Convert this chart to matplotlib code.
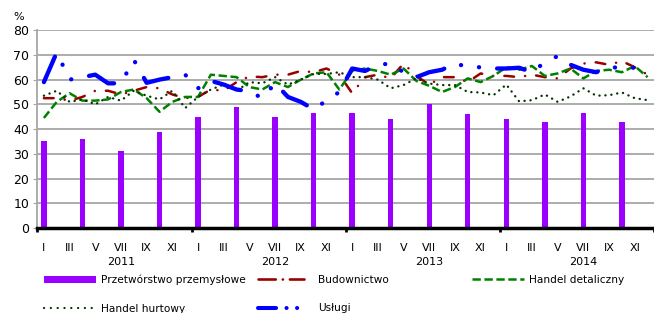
import numpy as np
import matplotlib
matplotlib.use("Agg")
import matplotlib.pyplot as plt
from matplotlib.patches import Patch
from matplotlib.lines import Line2D

plt.rcParams['font.family'] = ['DejaVu Sans']
plt.rcParams['lines.scale_dashes'] = False

years = ["2011", "2012", "2013", "2014"]
month_labels = ["I", "III", "V", "VII", "IX", "XI"]

# Przetworstwo przemyslowe - quarterly (I, IV, VII, X)
przetworstwo = [35, 36, 31, 39, 45, 49, 45, 46.5, 46.5, 44, 50, 46, 44, 43, 46.5, 43]

budownictwo = [52.5, 52.5, 51.5, 53, 55.5, 55.5, 54, 55.5, 57, 56.5, 54, 52.5,
               53, 56, 55.5, 59, 61.3, 61, 62, 62, 63.5, 63, 64.5, 62,
               54.5, 61, 62, 60.5, 66.5, 61.5, 58, 61, 61, 59, 62.5, 61.5,
               61.5, 61, 62, 61, 60.5, 64.5, 66.5, 67, 66, 67.5, 65, 62]

detaliczny = [44.5, 51, 54.5, 51.5, 51.5, 52, 55, 56, 52.5, 47, 51, 53,
              53, 62, 61.5, 61, 57, 56, 59, 57, 60, 62.5, 63, 56,
              63.5, 64.5, 63.5, 62, 64.5, 59.5, 57.5, 55, 57, 60.5, 59, 61.5,
              65, 64, 65.5, 61.5, 62.5, 64.5, 60.5, 63.5, 64, 63, 65.5, 61]

hurtowy = [53.5, 55.5, 51, 52, 50, 53, 51.5, 55.5, 53.5, 52, 55.5, 48.5,
           53, 56, 58, 55.5, 59, 58.5, 61, 58, 60, 62.3, 62.3, 63,
           61, 61, 60, 56.5, 57.8, 60.5, 58.4, 57.8, 57.8, 55, 54.8, 53.7,
           58, 51.2, 51.7, 54, 51, 53.2, 56.5, 53.5, 53.7, 54.8, 52.5, 51.7]

uslugi = [59, 71, 60, 61, 62, 58.5, 58.5, 68, 58.7, 60, 61, 62,
          56.5, 59.5, 58, 56, 55.3, 52.5, 58.5, 53, 51, 48, 51.5, 55,
          64.5, 63.5, 66, 66.5, 63, 61, 63, 64, 66.5, 65.2, 65, 64.5,
          64.5, 64.8, 63, 67, 69.5, 66, 64, 63, 65, 64.8, 64.8, 64.5]

x = np.arange(len(uslugi))
xq = np.arange(0, 48, 3)

fig = plt.figure(figsize=(6.54, 3.13), dpi=100)
ax = fig.add_axes([0.0573, 0.2716, 0.9427, 0.632])

ax.bar(xq, przetworstwo, width=0.42, color='#9900FF', zorder=2)

ax.plot(x, budownictwo, color='#9B0000', lw=1.8, dashes=(7, 8, 0.1, 8),
        dash_capstyle='round', zorder=3)
ax.plot(x, detaliczny, color='#008000', lw=1.8, dashes=(6, 2.6),
        dash_capstyle='butt', zorder=3)
ax.plot(x, hurtowy, color='#003300', lw=1.7, dashes=(0.1, 4.2),
        dash_capstyle='round', zorder=3)
ax.plot(x, uslugi, color='#0000FF', lw=3.1, dashes=(20, 13, 0.1, 13, 0.1, 13),
        dash_capstyle='round', solid_capstyle='round', zorder=4)

ax.set_xlim(-0.5, 47.5)
ax.set_ylim(0, 80)
ax.set_yticks(range(0, 81, 10))
ax.yaxis.grid(True, color='#A6A6A6', lw=1.3)
ax.set_axisbelow(True)
ax.tick_params(axis='y', labelsize=9, length=3, color='#A6A6A6', pad=3)

ax.set_xticks([-0.5, 11.5, 23.5, 35.5, 47.5])
ax.set_xticklabels([])
ax.tick_params(axis='x', which='major', length=3, width=2, color='black')
ax.set_xticks(np.arange(0, 48, 2), minor=True)
ax.set_xticklabels(month_labels * 4, minor=True)
ax.tick_params(axis='x', which='minor', length=0, labelsize=8, pad=10.5)

for s in ['top', 'right']:
    ax.spines[s].set_visible(False)
ax.spines['left'].set_color('#A6A6A6')
ax.spines['left'].set_linewidth(1.3)
ax.spines['bottom'].set_color('black')
ax.spines['bottom'].set_linewidth(2.5)
ax.spines['bottom'].set_zorder(5)

for i, y in enumerate(years):
    ax.text(6 + 12 * i, -0.17, y, transform=ax.get_xaxis_transform(),
            ha='center', va='center', fontsize=8)

fig.text(0.021, 0.945, "%", fontsize=8, ha='left', va='center')

# legend, three columns
h_prz = Patch(facecolor='#9900FF', edgecolor='none')
h_hur = Line2D([], [], color='#003300', lw=1.6, dashes=(0.1, 4.8), dash_capstyle='round')
h_bud = Line2D([], [], color='#9B0000', lw=1.9, dashes=(12.5, 5, 0.1, 5), dash_capstyle='round')
h_usl = Line2D([], [], color='#0000FF', lw=2.9, dashes=(13, 7.5, 0.1, 7.5, 0.1, 7.5), dash_capstyle='round')
h_det = Line2D([], [], color='#008000', lw=1.8, dashes=(6, 2.6), dash_capstyle='butt')

leg_kw = dict(frameon=False, fontsize=7.6, loc='upper left', borderpad=0,
              borderaxespad=0, labelspacing=1.75, handleheight=0.75)
leg1 = fig.legend([h_prz, h_hur], ["Przetwórstwo przemysłowe", "Handel hurtowy"],
                  bbox_to_anchor=(0.068, 0.122), handlelength=4.9, handletextpad=0.5, **leg_kw)
leg2 = fig.legend([h_bud, h_usl], ["Budownictwo", "Usługi"],
                  bbox_to_anchor=(0.394, 0.122), handlelength=4.4, handletextpad=1.3, **leg_kw)
leg3 = fig.legend([h_det], ["Handel detaliczny"],
                  bbox_to_anchor=(0.721, 0.122), handlelength=5.0, handletextpad=0.4, **leg_kw)

fig.savefig("out.png", dpi=100)
